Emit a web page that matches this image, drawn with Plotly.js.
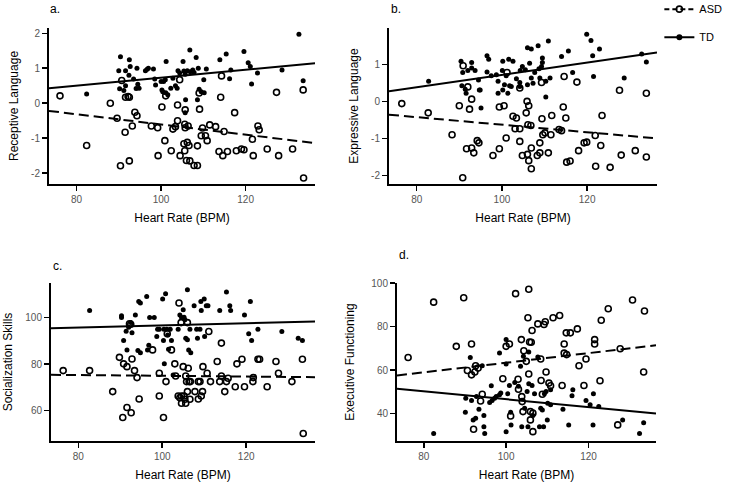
<!DOCTYPE html>
<html>
<head>
<meta charset="utf-8">
<script src="https://cdn.plot.ly/plotly-3.0.1.min.js"></script>
<style>
  body { margin: 0; background: #fff; }
  #chart { width: 731px; height: 485px; }
</style>
</head>
<body>
<div id="chart"></div>
<script>
// points as [heart rate, score]
const aTD = [[82.4,0.26],[90.4,1.33],[90.0,0.93],[90.2,0.41],[91.6,0.93],[91.6,0.50],[91.2,0.36],[92.5,1.24],[92.7,1.05],[92.4,0.80],[93.5,0.69],[94.3,1.00],[94.1,0.42],[94.5,0.54],[94.8,0.43],[96.3,0.93],[96.7,0.97],[97.0,1.00],[98.2,0.98],[98.5,0.69],[98.7,0.52],[100.0,0.62],[100.2,0.38],[100.4,0.33],[100.6,0.62],[101.0,0.67],[101.2,1.19],[101.1,0.30],[101.6,0.24],[102.3,0.43],[102.8,0.71],[103.4,0.50],[103.8,0.43],[104.4,0.86],[104.0,0.93],[105.2,1.19],[105.4,0.92],[105.7,0.83],[105.7,-0.27],[105.8,0.10],[106.2,0.93],[106.8,1.52],[106.9,0.90],[107.5,0.95],[108.3,1.31],[108.6,0.10],[109.0,0.40],[108.8,1.00],[109.5,0.33],[110.1,0.67],[110.7,0.98],[110.2,0.30],[113.9,1.24],[115.4,1.41],[116.2,0.70],[116.5,0.95],[119.6,1.48],[120.6,1.16],[121.1,1.05],[121.4,0.55],[122.8,0.86],[128.6,0.95],[132.6,1.97],[133.6,0.64],[107.8,0.88]];
const aASD = [[76.1,0.21],[82.4,-1.21],[88.0,0.0],[89.6,-0.43],[90.4,-1.79],[90.7,0.65],[91.5,-0.83],[91.6,0.17],[92.2,0.19],[92.5,0.17],[92.5,-1.65],[93.2,-0.65],[93.8,-0.26],[94.3,-0.36],[97.7,-0.65],[99.2,-0.70],[99.3,-1.50],[100.2,-0.11],[100.9,-1.07],[101.1,0.21],[102.4,-1.36],[102.8,-0.74],[103.4,-0.67],[103.9,-0.50],[103.9,-0.05],[104.4,0.67],[104.5,-1.50],[105.4,-1.16],[105.6,-0.60],[105.7,-0.70],[105.7,-0.19],[105.6,-1.36],[106.0,-1.64],[106.2,-1.12],[106.4,-0.65],[106.6,-1.21],[106.8,-1.65],[107.8,-1.78],[108.6,-1.78],[108.6,-1.22],[109.0,0.29],[109.1,-0.17],[109.5,-0.93],[109.8,-0.71],[110.5,-0.93],[110.9,-1.07],[111.5,-0.62],[112.9,-0.67],[113.7,-1.38],[114.1,0.17],[114.3,0.78],[114.6,-1.50],[114.9,-0.81],[115.7,-1.38],[117.4,-0.27],[117.8,-1.36],[119.0,-1.31],[119.6,-1.33],[121.6,-1.03],[121.8,-1.50],[122.9,-0.65],[123.2,-0.76],[125.1,-1.31],[127.3,0.31],[127.8,-1.50],[131.1,-1.31],[133.6,0.38],[133.7,-2.14]];

const bTD = [[82.8,0.54],[90.4,1.08],[90.8,0.78],[90.6,0.42],[91.4,0.33],[91.6,0.22],[92.0,0.83],[92.9,1.05],[92.9,0.90],[93.7,0.83],[94.5,0.58],[94.7,0.31],[95.1,-0.18],[94.9,0.31],[96.5,1.23],[96.9,1.14],[96.5,0.79],[97.5,0.69],[98.7,0.72],[99.1,0.54],[99.1,0.22],[100.2,1.08],[100.1,0.83],[100.2,0.31],[100.6,0.45],[101.0,0.69],[101.4,0.22],[101.6,1.14],[101.8,0.42],[102.2,0.40],[102.6,1.08],[103.4,0.61],[104.2,0.51],[104.2,0.40],[104.3,0.83],[104.8,0.94],[105.5,0.85],[106.0,0.45],[106.0,1.45],[106.5,1.03],[106.9,1.41],[106.9,0.63],[107.3,0.49],[107.7,0.78],[108.5,1.50],[108.9,0.63],[109.3,0.94],[109.5,1.17],[109.5,1.05],[110.3,0.54],[110.3,0.12],[110.9,1.63],[111.3,0.63],[114.0,1.21],[115.6,1.36],[116.6,0.78],[119.9,1.81],[120.9,1.64],[121.3,1.23],[121.5,0.67],[122.9,1.41],[128.7,0.63],[132.8,1.28],[133.9,1.06],[108.7,0.88]];
const bASD = [[76.5,-0.06],[82.7,-0.31],[88.3,-0.90],[90.0,-0.12],[90.8,-2.06],[90.9,0.96],[91.7,-1.28],[92.0,0.39],[92.4,-0.21],[92.9,0.06],[92.9,-1.26],[93.4,-1.39],[94.2,-1.06],[94.6,-1.12],[97.9,-1.46],[99.4,-1.28],[99.4,-0.15],[100.5,-0.12],[101.0,-0.99],[101.2,0.78],[102.6,-0.40],[103.4,-0.45],[103.1,-0.74],[104.2,-0.74],[104.2,-1.08],[104.2,0.36],[104.8,-1.46],[105.7,-0.31],[105.9,0.0],[106.0,-1.43],[106.1,-0.63],[106.3,-1.60],[106.3,-0.12],[106.8,-0.65],[106.9,-1.26],[106.9,-1.82],[108.3,-1.46],[108.9,-1.39],[108.9,-1.12],[109.3,0.51],[109.4,-0.47],[109.6,-0.90],[110.1,-0.85],[110.9,-1.39],[111.5,-0.90],[111.7,-0.38],[113.4,-0.76],[114.0,-0.79],[114.4,-0.15],[114.6,0.67],[115.0,-0.45],[115.2,-1.64],[116.0,-1.61],[117.6,0.52],[118.0,-1.33],[119.3,-1.12],[119.9,-1.10],[121.9,-0.92],[122.0,-1.75],[123.2,-1.19],[123.5,-0.38],[125.4,-1.78],[127.6,0.30],[128.0,-1.45],[131.3,-1.33],[133.9,-1.50],[133.9,0.22]];

const cTD = [[82.7,103.0],[90.3,100.7],[90.3,100.0],[90.8,90.1],[91.4,94.1],[91.6,86.1],[92.0,95.8],[92.5,97.8],[92.8,93.5],[93.6,101.1],[94.4,106.9],[94.8,106.2],[94.2,85.8],[94.8,84.9],[96.3,109.0],[97.0,100.0],[98.1,100.0],[96.8,88.1],[96.5,86.1],[98.7,91.8],[98.9,95.0],[99.3,95.0],[100.1,107.9],[100.3,90.1],[100.4,95.0],[100.8,110.2],[101.1,95.0],[101.3,92.5],[101.5,86.4],[101.9,95.0],[102.2,90.1],[100.5,80.1],[102.6,75.3],[103.8,95.0],[104.2,101.1],[104.6,100.0],[105.0,103.3],[105.2,100.1],[105.4,99.0],[105.6,91.1],[106.0,111.9],[106.0,90.4],[106.3,86.1],[106.6,95.0],[106.8,84.9],[107.6,105.0],[108.2,95.0],[108.4,91.1],[109.0,95.0],[109.2,106.9],[109.3,103.0],[110.0,107.9],[110.1,91.8],[110.5,105.0],[110.9,105.0],[113.7,103.0],[115.3,110.9],[116.1,105.0],[116.3,103.0],[119.6,101.1],[120.6,93.0],[121.0,106.9],[121.3,90.1],[122.8,95.0],[128.5,94.0],[132.4,91.1],[133.4,90.1]];
const cASD = [[76.4,77.2],[82.7,77.2],[88.2,68.2],[89.8,82.9],[90.6,57.1],[90.8,80.1],[91.6,61.4],[91.6,78.9],[92.2,97.3],[92.5,97.1],[92.6,59.1],[92.8,82.2],[93.4,77.2],[94.0,74.2],[94.5,65.0],[97.7,86.1],[99.3,76.1],[99.3,66.3],[100.3,57.1],[100.9,72.5],[101.2,93.0],[102.2,86.1],[103.0,80.1],[103.2,74.9],[103.8,66.3],[104.0,106.2],[104.2,65.6],[104.5,97.8],[104.6,66.3],[104.6,63.2],[105.0,78.9],[105.2,66.3],[105.4,64.9],[105.6,63.2],[105.6,74.9],[105.8,72.5],[106.0,68.2],[106.0,97.8],[106.2,78.2],[106.4,72.5],[106.6,64.9],[106.7,72.5],[107.8,68.2],[108.6,72.5],[108.6,65.0],[109.0,72.5],[109.3,66.3],[109.6,68.2],[109.7,78.9],[110.7,76.1],[111.1,94.0],[111.5,72.5],[113.1,81.1],[113.7,72.5],[114.1,89.0],[114.1,74.9],[114.9,68.2],[115.3,72.5],[115.7,73.9],[117.4,70.3],[117.8,80.1],[119.0,82.1],[119.6,70.3],[121.6,72.5],[121.7,74.2],[122.8,82.1],[123.2,82.1],[125.0,70.3],[127.1,81.1],[127.7,76.1],[130.9,72.5],[133.4,82.1],[133.6,50.2]];

const dTD = [[82.4,30.9],[90.1,40.6],[90.2,47.1],[91.3,65.8],[91.6,46.0],[92.0,37.1],[92.6,37.8],[92.8,47.8],[93.4,42.0],[94.2,62.0],[94.6,39.1],[94.6,34.0],[94.8,30.9],[96.0,45.1],[96.4,52.8],[96.6,46.0],[97.2,47.1],[97.6,47.8],[98.4,48.6],[98.7,49.4],[98.4,67.8],[100.0,74.0],[100.0,62.8],[100.0,31.7],[100.4,49.1],[100.8,52.9],[101.1,40.6],[101.2,34.8],[102.1,54.3],[103.0,52.5],[103.5,61.7],[103.8,34.0],[104.2,66.3],[104.5,42.5],[105.1,50.2],[105.3,34.0],[105.5,68.3],[105.5,53.7],[106.3,52.9],[106.5,39.1],[106.9,49.1],[107.7,66.0],[108.1,34.0],[108.4,42.5],[108.8,41.7],[109.1,34.0],[109.3,49.1],[109.7,50.2],[110.0,37.1],[110.1,44.8],[110.8,50.9],[110.8,44.0],[113.8,42.0],[115.2,34.8],[116.0,48.2],[116.2,50.9],[119.4,46.0],[120.4,44.0],[121.1,34.8],[121.2,49.1],[122.5,43.2],[128.3,37.1],[132.4,30.9],[133.4,35.8]];
const dASD = [[76.2,65.8],[82.4,91.2],[87.9,70.9],[89.7,93.2],[90.6,59.8],[91.6,72.0],[91.6,57.8],[92.1,32.8],[92.4,59.1],[92.6,62.0],[93.2,60.9],[94.2,48.9],[93.8,45.8],[99.2,56.0],[100.0,70.9],[100.8,72.0],[101.1,38.9],[102.3,95.1],[102.9,55.8],[103.0,51.2],[103.7,74.0],[103.8,47.8],[103.9,45.5],[104.1,40.9],[104.3,68.9],[104.9,64.0],[105.3,84.0],[105.5,97.1],[105.5,58.2],[105.7,72.9],[105.9,40.9],[105.9,37.1],[106.1,72.8],[106.3,78.2],[106.5,31.7],[106.5,40.2],[107.7,81.2],[108.4,65.1],[108.5,55.2],[108.8,48.9],[109.2,80.9],[109.5,82.2],[109.7,59.1],[110.4,54.0],[110.8,52.8],[111.4,84.0],[113.0,85.1],[113.6,52.9],[114.1,72.0],[114.1,67.8],[114.6,77.1],[114.7,67.1],[115.6,77.1],[117.3,78.9],[117.7,62.0],[118.9,52.9],[119.4,65.1],[121.5,74.0],[121.5,72.0],[122.8,55.1],[123.1,82.9],[124.8,88.2],[127.1,34.8],[127.7,69.8],[130.7,92.2],[133.4,59.1],[133.6,87.1]];

// fitted lines, end values read at the axis edges
const fitX = [73.5, 136.4];
const fitTD = { a: [0.43, 1.14], b: [0.27, 1.32], c: [95.4, 98.3], d: [51.4, 40.0] };
const fitASD = { a: [-0.22, -1.14], b: [-0.36, -1.0], c: [75.4, 74.4], d: [57.5, 71.4] };

const yTitles = ['Receptive Language', 'Expressive Language', 'Socialization Skills', 'Executive Functioning'];
const panelLabels = ['a.', 'b.', 'c.', 'd.'];
const xTicks = [80, 100, 120];
const yTicks = {
  a: [-2, -1, 0, 1, 2],
  b: [-2, -1, 0, 1],
  c: [60, 80, 100],
  d: [40, 60, 80, 100]
};

const W = 731, H = 485;
const FONT = 'Liberation Sans, Arial, sans-serif';

// pixel boxes of the four panels: left, right, top, bottom
const boxes = {
  a: [49, 315, 28, 184],
  b: [389, 657, 28, 184],
  c: [51, 315, 283, 441],
  d: [397, 656, 283, 441]
};
const yRanges = { a: [-2.31, 2.15], b: [-2.23, 1.98], c: [47, 114.8], d: [27.4, 100] };
const yStandoff = { a: 10, b: 10, c: 10, d: 14 };
const labelPos = { a: [48, 8.5], b: [389, 8.5], c: [51, 266], d: [397, 255] };

const keys = ['a', 'b', 'c', 'd'];
const sets = { a: [aTD, aASD], b: [bTD, bASD], c: [cTD, cASD], d: [dTD, dASD] };

const data = [];
const layout = {
  width: W, height: H,
  margin: { l: 0, r: 0, t: 0, b: 0, autoexpand: false },
  paper_bgcolor: '#fff', plot_bgcolor: '#fff',
  font: { family: FONT, color: '#000' },
  showlegend: true,
  legend: {
    x: 0.902, y: 1.011, xanchor: 'left', yanchor: 'top',
    font: { size: 11, family: FONT, color: '#000' },
    tracegroupgap: 9,
    bgcolor: 'rgba(0,0,0,0)'
  },
  annotations: []
};

keys.forEach((k, i) => {
  const n = i === 0 ? '' : String(i + 1);
  const xa = 'x' + n, ya = 'y' + n;
  const [td, asd] = sets[k];
  data.push({
    type: 'scatter', mode: 'markers', xaxis: xa, yaxis: ya, showlegend: false,
    x: td.map(p => p[0]), y: td.map(p => p[1]),
    marker: { symbol: 'circle', size: 5, color: '#000' }
  });
  data.push({
    type: 'scatter', mode: 'markers', xaxis: xa, yaxis: ya, showlegend: false,
    x: asd.map(p => p[0]), y: asd.map(p => p[1]),
    marker: { symbol: 'circle-open', size: 6, color: '#000', line: { width: 1.6, color: '#000' } }
  });
  data.push({
    type: 'scatter', mode: 'lines', xaxis: xa, yaxis: ya, showlegend: false,
    x: fitX, y: fitTD[k], line: { color: '#000', width: 2 }
  });
  data.push({
    type: 'scatter', mode: 'lines', xaxis: xa, yaxis: ya, showlegend: false,
    x: fitX, y: fitASD[k], line: { color: '#000', width: 2, dash: '10px,5px' }
  });

  const [l, r, t, b] = boxes[k];
  const common = {
    showline: true, linecolor: '#000', linewidth: 2,
    ticks: 'outside', ticklen: 5, tickwidth: 1.5, tickcolor: '#000',
    showgrid: false, zeroline: false, automargin: false,
    tickfont: { size: 10, color: '#555', family: FONT }
  };
  layout['xaxis' + n] = Object.assign({}, common, {
    domain: [l / W, r / W], anchor: ya, range: [fitX[0], fitX[1]],
    tickmode: 'array', tickvals: xTicks, ticktext: xTicks.map(String),
    title: { text: 'Heart Rate (BPM)', font: { size: 12, color: '#000' }, standoff: 10 }
  });
  layout['yaxis' + n] = Object.assign({}, common, {
    domain: [1 - b / H, 1 - t / H], anchor: xa, range: yRanges[k],
    tickmode: 'array', tickvals: yTicks[k], ticktext: yTicks[k].map(v => String(v)),
    title: { text: yTitles[i], font: { size: 12, color: '#000' }, standoff: yStandoff[k] }
  });
  layout.annotations.push({
    text: panelLabels[i], xref: 'paper', yref: 'paper',
    x: labelPos[k][0] / W, y: 1 - labelPos[k][1] / H,
    xanchor: 'left', yanchor: 'middle', showarrow: false,
    font: { size: 12, color: '#000' }
  });
});

// legend entries
data.push({
  type: 'scatter', mode: 'lines+markers', name: 'ASD', legendgroup: 'asd',
  x: [null], y: [null],
  line: { color: '#000', width: 2, dash: '5px,3px' },
  marker: { symbol: 'circle-open', size: 6, color: '#000', line: { width: 1.6 } }
});
data.push({
  type: 'scatter', mode: 'lines+markers', name: 'TD', legendgroup: 'td',
  x: [null], y: [null],
  line: { color: '#000', width: 2 },
  marker: { symbol: 'circle', size: 6, color: '#000' }
});

Plotly.newPlot('chart', data, layout, { staticPlot: true });
</script>
</body>
</html>
